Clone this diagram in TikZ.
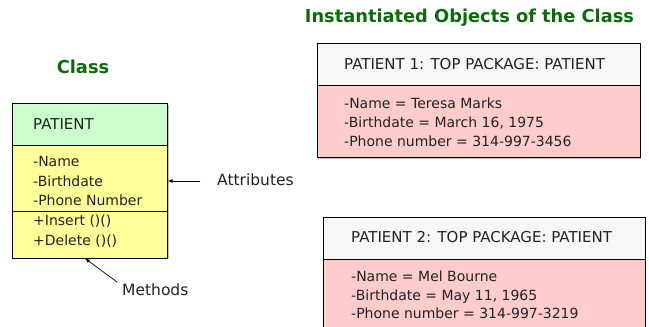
\documentclass[tikz,border=0pt]{standalone}
\usepackage{fontspec}
\setmainfont{DejaVu Sans}
\definecolor{hdrgreen}{HTML}{CCFFCC}
\definecolor{bodyyellow}{HTML}{FFFF99}
\definecolor{bodypink}{HTML}{FFCCCC}
\definecolor{hdrgray}{HTML}{F7F7F7}
\definecolor{titlegreen}{HTML}{0B6B0B}
\definecolor{inkgray}{HTML}{222222}

\begin{document}
\begin{tikzpicture}[x=1pt,y=1pt]
\tikzstyle{every node}+=[inner sep=0pt]
\tikzstyle{cell}=[draw=black,line width=0.8pt,anchor=north west,outer sep=0pt]
\tikzstyle{txt}=[anchor=base west,text=inkgray,font=\fontsize{14}{16}\selectfont]
\tikzstyle{hdrtxt}=[txt,font=\fontsize{15}{17}\selectfont]
\tikzstyle{lbl}=[txt,font=\fontsize{15.5}{18}\selectfont]
\tikzstyle{ttl}=[anchor=base,text=titlegreen,font=\fontsize{17.8}{20}\selectfont\bfseries]
\tikzstyle{shade}=[fill=black!25]
\useasboundingbox (0,0) rectangle (649,-327);
\clip (0,0) rectangle (649,-327);
% class box
\node [ttl] (clsttl) at (83,-73.3) {Class};
\fill [shade] (13.9,-104.5) rectangle (168.9,-259.2);
\node [cell,fill=hdrgreen,minimum width=155,minimum height=41.7] (clshdr) at (12.7,-103.3) {};
\node [cell,fill=bodyyellow,minimum width=155,minimum height=113] (clsbody) at (12.7,-145) {};
\draw [black,line width=0.8pt] (12.7,-211) -- (167.7,-211);
\node [hdrtxt] (clsname) at (33,-129) {PATIENT};
\node [txt] (attr1) at (33,-166.7) {-Name};
\node [txt] (attr2) at (33,-186.3) {-Birthdate};
\node [txt] (attr3) at (33,-205.9) {-Phone Number};
\node [txt] (meth1) at (33,-225.5) {+Insert ()()};
\node [txt] (meth2) at (33,-245.1) {+Delete ()()};
% labels and pointers
\node [lbl] (attrlbl) at (217,-185.5) {Attributes};
\node [lbl] (methlbl) at (122,-295.5) {Methods};
\coordinate (attrtail) at (200,-181);
\coordinate (methtail) at (117,-282);
\coordinate (methtip) at (85,-258.4);
\draw [black,line width=0.7pt,-latex] (attrtail) -- (attrtail -| clsbody.east);
\draw [black,line width=0.7pt,-latex] (methtail) -- (methtip);
% instantiated objects
\node [ttl] (objttl) at (469.5,-22.7) {Instantiated Objects of the Class};
\fill [shade] (318.2,-44.2) rectangle (641.2,-158.5);
\node [cell,fill=hdrgray,minimum width=323,minimum height=42.3] (obj1hdr) at (317,-43) {};
\node [cell,fill=bodypink,minimum width=323,minimum height=72] (obj1body) at (317,-85.3) {};
\node [hdrtxt] (obj1name) at (344,-69) {PATIENT 1: TOP PACKAGE: PATIENT};
\node [txt] (obj1a) at (344,-108.3) {-Name = Teresa Marks};
\node [txt] (obj1b) at (344,-127.2) {-Birthdate = March 16, 1975};
\node [txt] (obj1c) at (344,-146.1) {-Phone number = 314-997-3456};
\fill [shade] (324.2,-218.2) rectangle (646.2,-345);
\node [cell,fill=hdrgray,minimum width=322,minimum height=42] (obj2hdr) at (323,-217) {};
\node [cell,fill=bodypink,minimum width=322,minimum height=85] (obj2body) at (323,-259) {};
\node [hdrtxt] (obj2name) at (351,-242.7) {PATIENT 2: TOP PACKAGE: PATIENT};
\node [txt] (obj2a) at (351,-281.7) {-Name = Mel Bourne};
\node [txt] (obj2b) at (351,-300) {-Birthdate = May 11, 1965};
\node [txt] (obj2c) at (351,-318.3) {-Phone number = 314-997-3219};
\end{tikzpicture}
\end{document}
